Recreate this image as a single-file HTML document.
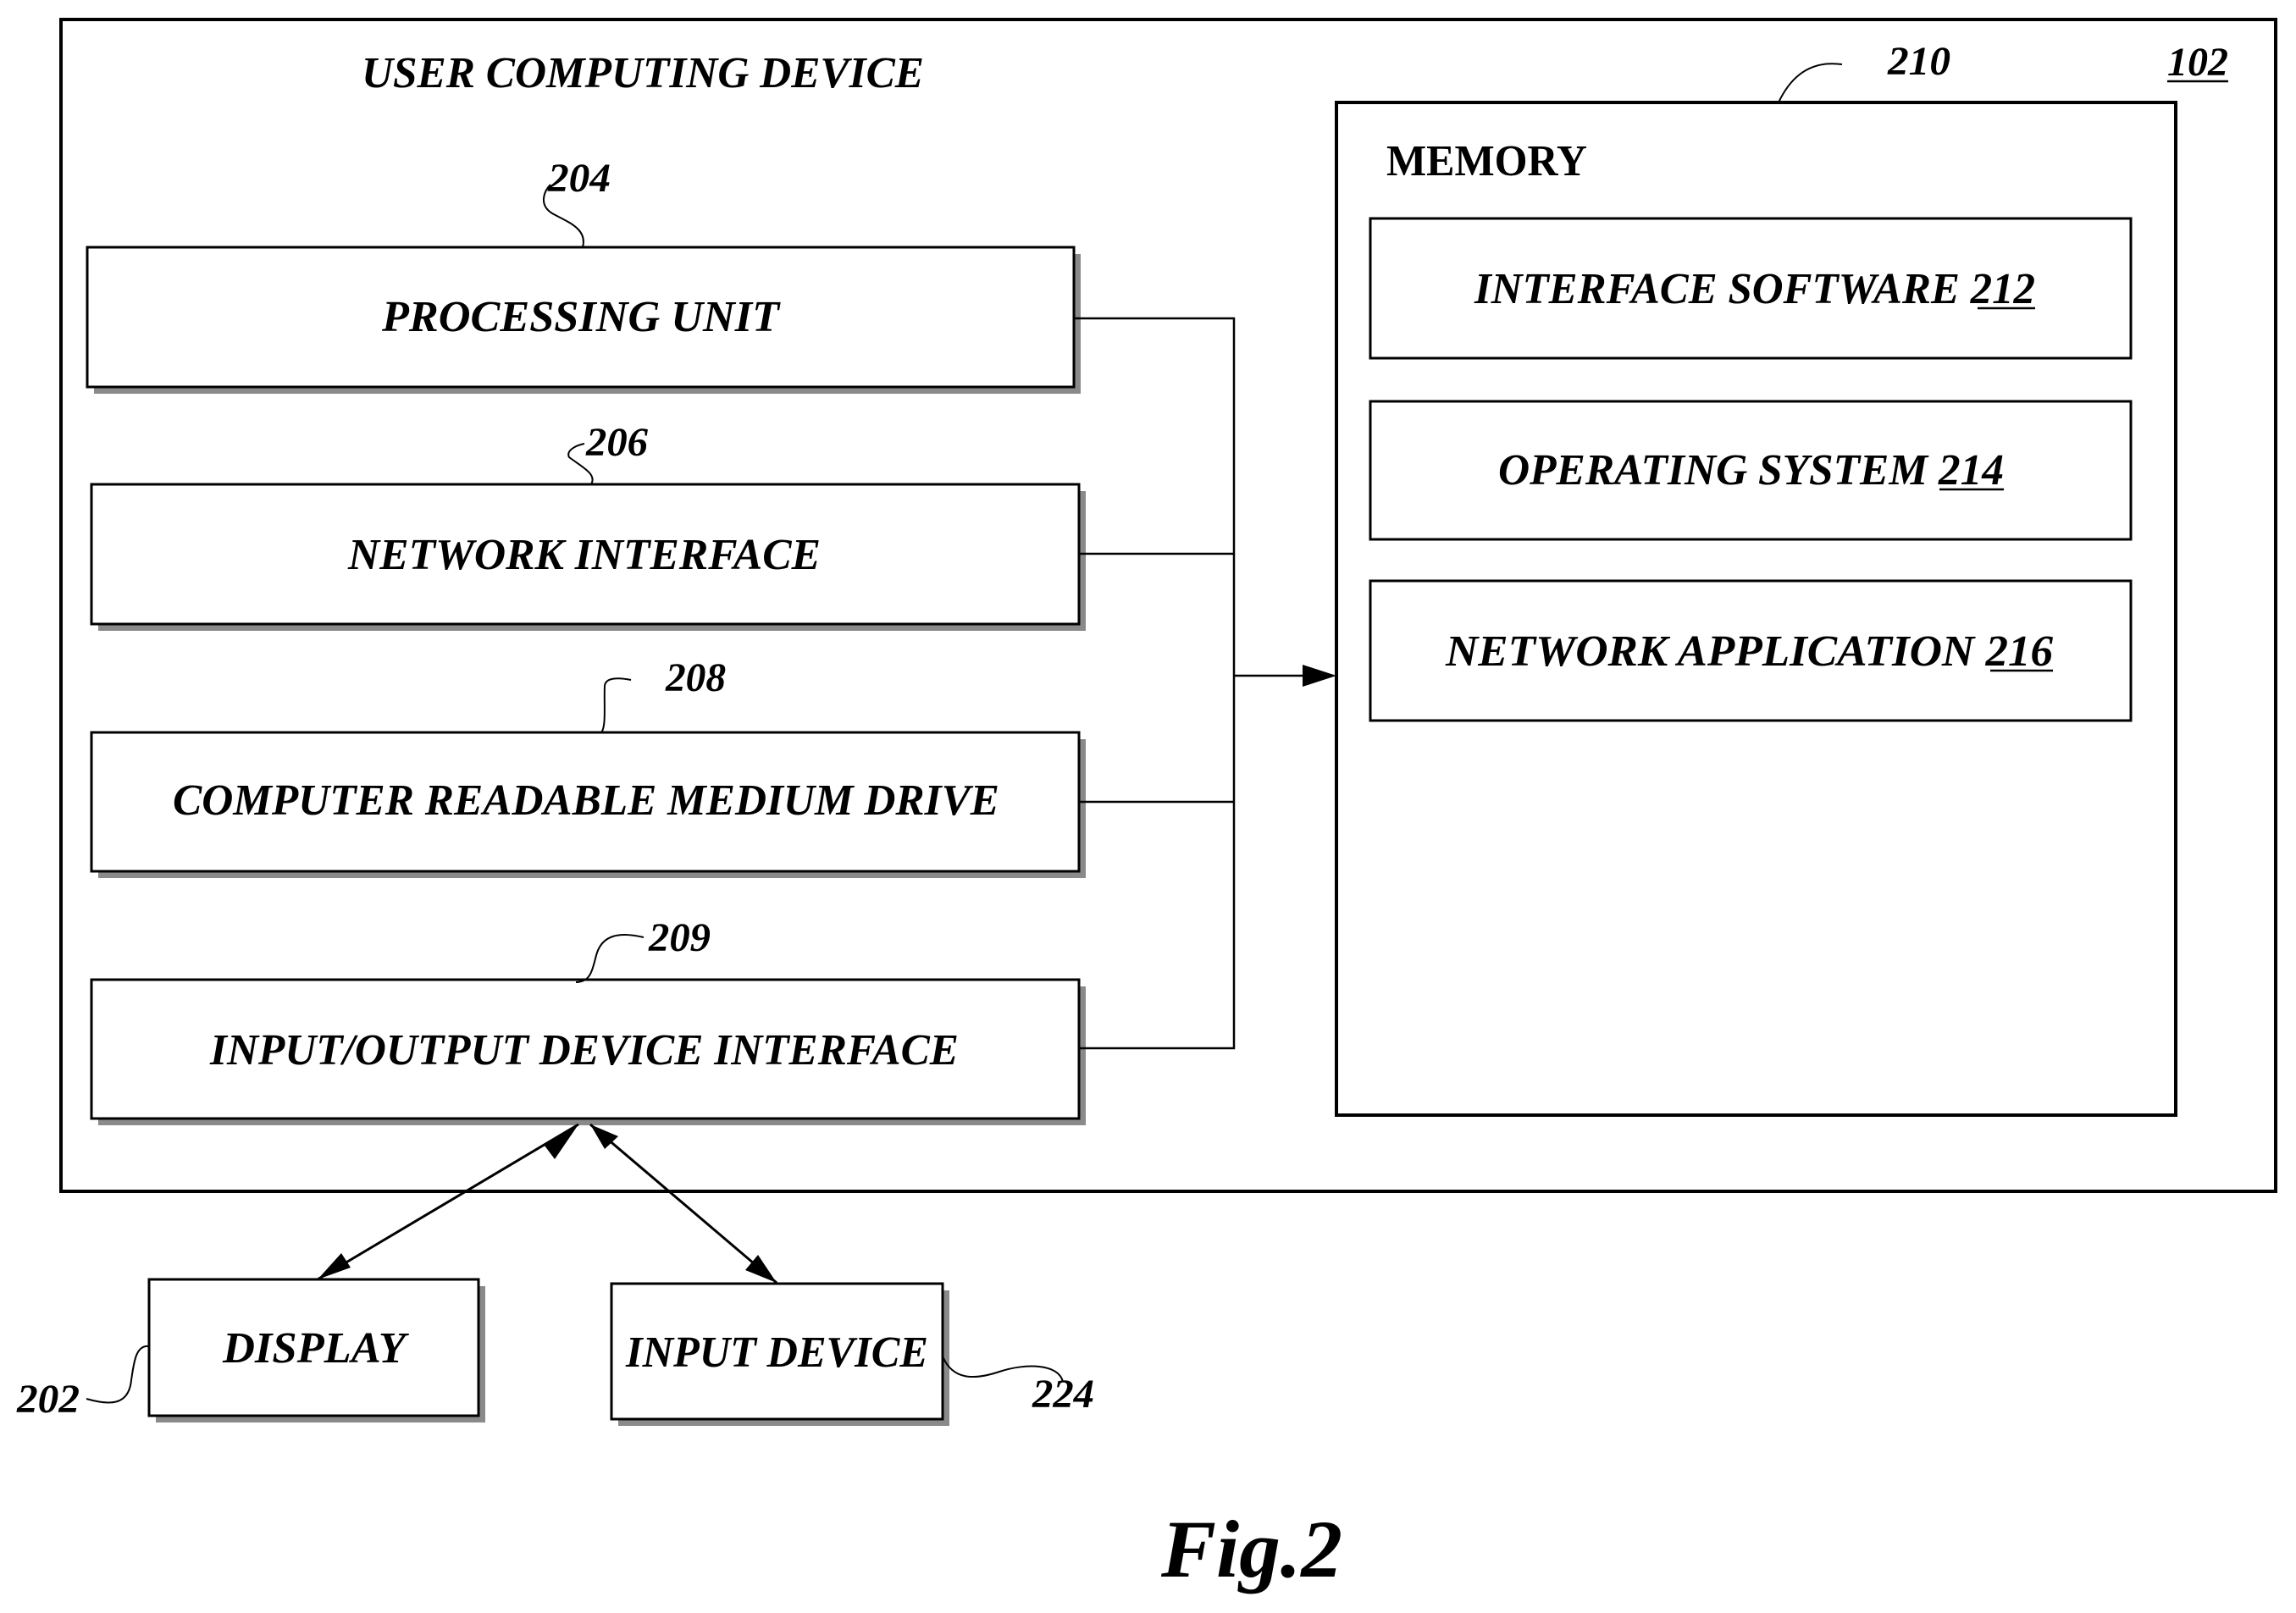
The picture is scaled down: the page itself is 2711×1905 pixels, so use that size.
<!DOCTYPE html>
<html><head><meta charset="utf-8"><style>
html,body{margin:0;padding:0;background:#fff;}
svg{display:block;}
.t{font-family:"Liberation Serif",serif;font-weight:bold;font-style:italic;font-size:52px;fill:#000;}
.n{font-family:"Liberation Serif",serif;font-style:italic;font-weight:bold;font-size:48px;fill:#000;}
</style></head><body>
<svg width="2711" height="1905" viewBox="0 0 2711 1905" xmlns="http://www.w3.org/2000/svg">
<rect x="72" y="23" width="2615" height="1384" fill="none" stroke="#000" stroke-width="4"/>
<text class="t" x="427" y="103" textLength="664" lengthAdjust="spacingAndGlyphs">USER COMPUTING DEVICE</text>
<text class="n" x="2559" y="89" textLength="72" lengthAdjust="spacingAndGlyphs">102</text>
<line x1="2559" y1="96" x2="2631" y2="96" stroke="#000" stroke-width="2.5"/>

<g fill="#8a8a8a">
<rect x="111" y="300" width="1165" height="165"/>
<rect x="116" y="580" width="1166" height="165"/>
<rect x="116" y="873" width="1166" height="164"/>
<rect x="116" y="1165" width="1166" height="164"/>
<rect x="184" y="1519" width="389" height="161"/>
<rect x="730" y="1524" width="391" height="160"/>
<rect x="1626" y="266" width="898" height="165"/>
<rect x="1626" y="482" width="898" height="163"/>
<rect x="1626" y="694" width="898" height="165"/>
</g>
<g fill="#fff" stroke="#000" stroke-width="3">
<rect x="103" y="292" width="1165" height="165"/>
<rect x="108" y="572" width="1166" height="165"/>
<rect x="108" y="865" width="1166" height="164"/>
<rect x="108" y="1157" width="1166" height="164"/>
<rect x="176" y="1511" width="389" height="161"/>
<rect x="722" y="1516" width="391" height="160"/>
<rect x="1578" y="121" width="991" height="1196" stroke-width="4"/>
<rect x="1618" y="258" width="898" height="165"/>
<rect x="1618" y="474" width="898" height="163"/>
<rect x="1618" y="686" width="898" height="165"/>
</g>

<text class="t" x="451" y="391" textLength="469" lengthAdjust="spacingAndGlyphs">PROCESSING UNIT</text>
<text class="t" x="411" y="672" textLength="558" lengthAdjust="spacingAndGlyphs">NETWORK INTERFACE</text>
<text class="t" x="204" y="962" textLength="976" lengthAdjust="spacingAndGlyphs">COMPUTER READABLE MEDIUM DRIVE</text>
<text class="t" x="248" y="1257" textLength="884" lengthAdjust="spacingAndGlyphs">INPUT/OUTPUT DEVICE INTERFACE</text>
<text class="t" x="263" y="1609" textLength="216" lengthAdjust="spacingAndGlyphs">DISPLAY</text>
<text class="t" x="739" y="1614" textLength="357" lengthAdjust="spacingAndGlyphs">INPUT DEVICE</text>

<text x="1637" y="207" font-family="Liberation Serif,serif" font-weight="bold" font-size="52" textLength="237" lengthAdjust="spacingAndGlyphs">MEMORY</text>
<text class="t" x="1741" y="358" textLength="662" lengthAdjust="spacingAndGlyphs">INTERFACE SOFTWARE 212</text>
<line x1="2335" y1="364" x2="2403" y2="364" stroke="#000" stroke-width="2.5"/>
<text class="t" x="1769" y="572" textLength="597" lengthAdjust="spacingAndGlyphs">OPERATING SYSTEM 214</text>
<line x1="2290" y1="578" x2="2366" y2="578" stroke="#000" stroke-width="2.5"/>
<text class="t" x="1707" y="786" textLength="717" lengthAdjust="spacingAndGlyphs">NETWORK APPLICATION 216</text>
<line x1="2350" y1="792" x2="2424" y2="792" stroke="#000" stroke-width="2.5"/>

<g fill="none" stroke="#000" stroke-width="2.5">
<polyline points="1268,376 1457,376 1457,1238 1274,1238"/>
<line x1="1274" y1="654" x2="1457" y2="654"/>
<line x1="1274" y1="947" x2="1457" y2="947"/>
<line x1="1457" y1="798" x2="1550" y2="798"/>
</g>
<polygon points="1578,798 1538,785 1538,811" fill="#000"/>

<g stroke="#000" stroke-width="3">
<line x1="683" y1="1328" x2="375" y2="1511"/>
<line x1="697" y1="1328" x2="917" y2="1515"/>
</g>
<polygon points="683,1328 643,1353 655,1369" fill="#000"/>
<polygon points="375,1511 403,1480 414,1497" fill="#000"/>
<polygon points="697,1328 730,1342 714,1357" fill="#000"/>
<polygon points="917,1515 880,1500 895,1482" fill="#000"/>

<g fill="none" stroke="#000" stroke-width="2">
<path d="M688,292 C694,270 670,262 652,252 C636,242 642,226 650,218"/>
<path d="M698,572 C705,560 688,552 672,540 C668,532 680,526 690,524"/>
<path d="M710,865 C716,858 713,830 714,810 C715,800 730,800 745,803"/>
<path d="M680,1160 C700,1160 700,1140 705,1125 C712,1105 730,1100 760,1107"/>
<path d="M2100,121 C2110,100 2130,70 2175,76"/>
<path d="M176,1590 C160,1588 158,1610 155,1630 C152,1660 130,1660 102,1652"/>
<path d="M1113,1602 C1125,1630 1150,1630 1180,1620 C1210,1610 1250,1610 1255,1632"/>
</g>
<text class="n" x="647" y="226" textLength="74" lengthAdjust="spacingAndGlyphs">204</text>
<text class="n" x="692" y="538" textLength="73" lengthAdjust="spacingAndGlyphs">206</text>
<text class="n" x="786" y="816" textLength="71" lengthAdjust="spacingAndGlyphs">208</text>
<text class="n" x="766" y="1123" textLength="73" lengthAdjust="spacingAndGlyphs">209</text>
<text class="n" x="2229" y="88" textLength="74" lengthAdjust="spacingAndGlyphs">210</text>
<text class="n" x="20" y="1668" textLength="74" lengthAdjust="spacingAndGlyphs">202</text>
<text class="n" x="1219" y="1662" textLength="73" lengthAdjust="spacingAndGlyphs">224</text>

<text x="1371" y="1862" font-family="Liberation Serif,serif" font-weight="bold" font-style="italic" font-size="96" textLength="214" lengthAdjust="spacingAndGlyphs">Fig.2</text>
</svg>
</body></html>
